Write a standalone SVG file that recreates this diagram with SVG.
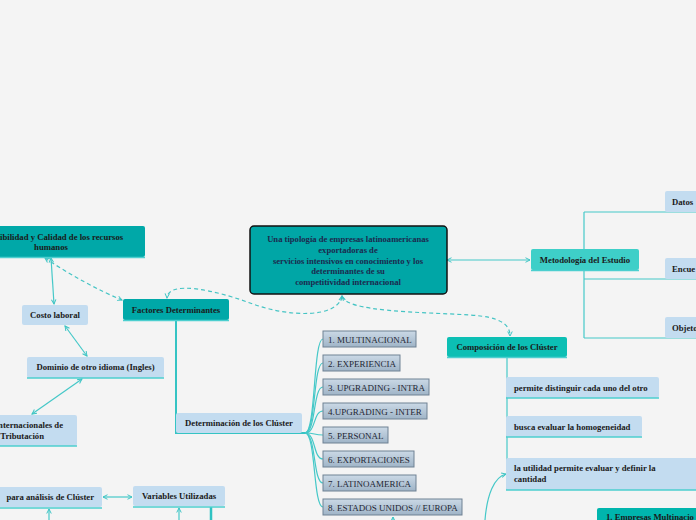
<svg xmlns="http://www.w3.org/2000/svg" width="696" height="520" viewBox="0 0 696 520">
<defs>
<marker id="ah" viewBox="0 0 8 8" refX="7" refY="4" markerWidth="6" markerHeight="6" orient="auto-start-reverse" markerUnits="userSpaceOnUse">
<path d="M1,1 L7,4 L1,7" fill="none" stroke="#3cc4c4" stroke-width="1.3"/>
</marker>
<linearGradient id="gl" x1="0" y1="0" x2="0" y2="1">
<stop offset="0" stop-color="#cbd9e6"/>
<stop offset="1" stop-color="#9fb4c7"/>
</linearGradient>
</defs>
<style>
.t{font-family:"Liberation Serif","Times New Roman",serif;font-size:8.7px;font-weight:bold;fill:#1a1a1a}
.c{text-anchor:middle}
.ct{font-family:"Liberation Serif","Times New Roman",serif;font-size:8.6px;font-weight:bold;fill:#1c2a4e;text-anchor:middle}
.li{font-family:"Liberation Serif","Times New Roman",serif;font-size:9px;fill:#1e2633}
.teal{fill:#00a8a8}
.lb{fill:#c3dcf0}
.it{fill:url(#gl);stroke:#6f8193;stroke-width:1}
.ln{fill:none;stroke:#45c8c8;stroke-width:1.2}
.ds{fill:none;stroke:#45c4c4;stroke-width:1.2;stroke-dasharray:4 3}
.ul{stroke:#4ccfcf;stroke-width:1.5}
</style>
<rect width="696" height="520" fill="#f4f4f4"/>

<g id="connectors">
<line class="ln" x1="447" y1="260" x2="530" y2="260" marker-start="url(#ah)" marker-end="url(#ah)"/>
<path class="ln" d="M584,212 V338 M584,212 H696 M584,279 H696 M584,338 H696"/>
<path class="ds" d="M342,296 C338,318 290,318 250,303 C215,290 168,280 167,298" marker-start="url(#ah)" marker-end="url(#ah)"/>
<path class="ds" d="M342,296 C346,312 420,312 470,315 C500,317 510,324 510,336" marker-start="url(#ah)" marker-end="url(#ah)"/>
<path class="ds" d="M45,258 C70,275 100,291 122,300" marker-start="url(#ah)" marker-end="url(#ah)"/>
<line class="ln" x1="51" y1="258" x2="54" y2="304" marker-start="url(#ah)" marker-end="url(#ah)"/>
<line class="ln" x1="65" y1="326" x2="87" y2="356" marker-start="url(#ah)" marker-end="url(#ah)"/>
<line class="ln" x1="82" y1="379" x2="32" y2="414" marker-start="url(#ah)" marker-end="url(#ah)"/>
<line class="ln" x1="103" y1="497" x2="132" y2="497" marker-start="url(#ah)" marker-end="url(#ah)"/>
<line class="ln" x1="49" y1="520" x2="49" y2="509" marker-end="url(#ah)"/>
<line class="ln" x1="179" y1="520" x2="179" y2="508" marker-end="url(#ah)"/>
<line x1="211" y1="507" x2="211" y2="520" stroke="#2fc2c2" stroke-width="2.5"/>
<path d="M176,320 V433 H305" fill="none" stroke="#35c4c4" stroke-width="2"/>
<g class="ln">
<path d="M305,433 C316,433 313,339 323,339"/>
<path d="M305,433 C316,433 313,363 323,363"/>
<path d="M305,433 C316,433 313,387 323,387"/>
<path d="M305,433 C316,433 313,411 323,411"/>
<path d="M305,433 C316,433 313,435 323,435"/>
<path d="M305,433 C316,433 313,459 323,459"/>
<path d="M305,433 C316,433 313,483 323,483"/>
<path d="M305,433 C316,433 313,507 323,507"/>
</g>
<line class="ln" x1="393" y1="520" x2="393" y2="517" marker-end="url(#ah)"/>
<path class="ln" d="M507,357 V490"/>
<path class="ln" d="M485,520 C487,495 494,477 506,474" marker-end="url(#ah)"/>
</g>

<g id="central">
<rect x="250" y="226" width="197" height="68" rx="4" fill="#00a6a6" stroke="#111" stroke-width="1.5"/>
<text class="ct" x="348" y="242">Una tipología de empresas latinoamericanas</text>
<text class="ct" x="348" y="253">exportadoras de</text>
<text class="ct" x="348" y="264">servicios intensivos en conocimiento y los</text>
<text class="ct" x="348" y="274">determinantes de su</text>
<text class="ct" x="348" y="285">competitividad internacional</text>
</g>

<g id="metodologia">
<rect x="531" y="249" width="108" height="21" rx="2" fill="#3ecfc8"/>
<line class="ul" x1="531" y1="270.5" x2="639" y2="270.5"/>
<text class="t c" x="585" y="263">Metodología del Estudio</text>
</g>
<g id="datos">
<rect x="665" y="191" width="35" height="21" rx="2" class="lb"/>
<text class="t" x="672" y="205">Datos</text>
</g>
<g id="encue">
<rect x="665" y="258" width="35" height="21" rx="2" class="lb"/>
<text class="t" x="672" y="272">Encue</text>
</g>
<g id="objeto">
<rect x="665" y="317" width="35" height="21" rx="2" class="lb"/>
<text class="t" x="672" y="331">Objeto</text>
</g>

<g id="composicion">
<rect x="447" y="337" width="120" height="20" rx="2" fill="#0cbfb4"/>
<line class="ul" x1="447" y1="357.5" x2="567" y2="357.5"/>
<text class="t c" x="507" y="350">Composición de los Clúster</text>
</g>
<g id="permite">
<rect x="506" y="377" width="153" height="21" rx="2" class="lb"/>
<line class="ul" x1="506" y1="398" x2="659" y2="398"/>
<text class="t" x="514" y="391">permite distinguir cada uno del otro</text>
</g>
<g id="busca">
<rect x="506" y="416" width="136" height="21" rx="2" class="lb"/>
<line class="ul" x1="506" y1="437" x2="642" y2="437"/>
<text class="t" x="514" y="430">busca evaluar la homogeneidad</text>
</g>
<g id="utilidad">
<rect x="506" y="458" width="194" height="32" rx="2" class="lb"/>
<line class="ul" x1="506" y1="490" x2="696" y2="490"/>
<text class="t" x="514" y="471">la utilidad permite evaluar y definir la</text>
<text class="t" x="514" y="482">cantidad</text>
</g>
<g id="empresas">
<rect x="597" y="508" width="103" height="16" rx="2" fill="#00b5ad"/>
<text class="t" x="606" y="520">1. Empresas Multinacio</text>
</g>

<g id="recursos">
<rect x="-6" y="226" width="151" height="31" rx="2" class="teal"/>
<line class="ul" x1="-6" y1="257.5" x2="145" y2="257.5"/>
<text class="t" x="0" y="240">ibilidad y Calidad de los recursos</text>
<text class="t c" x="51" y="250">humanos</text>
</g>
<g id="factores">
<rect x="123" y="299" width="106" height="21" rx="2" class="teal"/>
<line class="ul" x1="123" y1="320.5" x2="229" y2="320.5"/>
<text class="t c" x="176" y="313">Factores Determinantes</text>
</g>
<g id="costo">
<rect x="22" y="305" width="66" height="20" rx="2" class="lb"/>
<text class="t c" x="55" y="318">Costo laboral</text>
</g>
<g id="dominio">
<rect x="27" y="357" width="137" height="21" rx="2" class="lb"/>
<line class="ul" x1="27" y1="378" x2="164" y2="378"/>
<text class="t c" x="95.5" y="370">Dominio de otro idioma (Ingles)</text>
</g>
<g id="internacionales">
<rect x="-6" y="415" width="83" height="31" rx="2" class="lb"/>
<line class="ul" x1="-6" y1="446" x2="77" y2="446"/>
<text class="t" x="63" y="428" text-anchor="end">nternacionales de</text>
<text class="t" x="44" y="439" text-anchor="end">Tributación</text>
</g>
<g id="analisis">
<rect x="-6" y="487" width="108" height="20" rx="2" class="lb"/>
<line class="ul" x1="-6" y1="508" x2="102" y2="508"/>
<text class="t" x="94" y="500" text-anchor="end">para análisis de Clúster</text>
</g>
<g id="variables">
<rect x="133" y="486" width="92" height="20" rx="2" class="lb"/>
<line class="ul" x1="133" y1="507" x2="225" y2="507"/>
<text class="t c" x="179" y="499">Variables Utilizadas</text>
</g>
<g id="determinacion">
<rect x="176" y="413" width="126" height="20" rx="2" class="lb"/>
<text class="t c" x="239" y="426">Determinación de los Clúster</text>
</g>

<g id="item1"><rect class="it" x="323" y="331" width="93" height="16"/><text class="li" x="328" y="342.5">1. MULTINACIONAL</text></g>
<g id="item2"><rect class="it" x="323" y="355" width="77" height="16"/><text class="li" x="328" y="366.5">2. EXPERIENCIA</text></g>
<g id="item3"><rect class="it" x="323" y="379" width="106" height="16"/><text class="li" x="328" y="390.5">3. UPGRADING - INTRA</text></g>
<g id="item4"><rect class="it" x="323" y="403" width="104" height="16"/><text class="li" x="328" y="414.5">4.UPGRADING - INTER</text></g>
<g id="item5"><rect class="it" x="323" y="427" width="65" height="16"/><text class="li" x="328" y="438.5">5. PERSONAL</text></g>
<g id="item6"><rect class="it" x="323" y="451" width="91" height="16"/><text class="li" x="328" y="462.5">6. EXPORTACIONES</text></g>
<g id="item7"><rect class="it" x="323" y="475" width="93" height="16"/><text class="li" x="328" y="486.5">7. LATINOAMERICA</text></g>
<g id="item8"><rect class="it" x="323" y="499" width="139" height="16"/><text class="li" x="328" y="510.5">8. ESTADOS UNIDOS // EUROPA</text></g>
</svg>
